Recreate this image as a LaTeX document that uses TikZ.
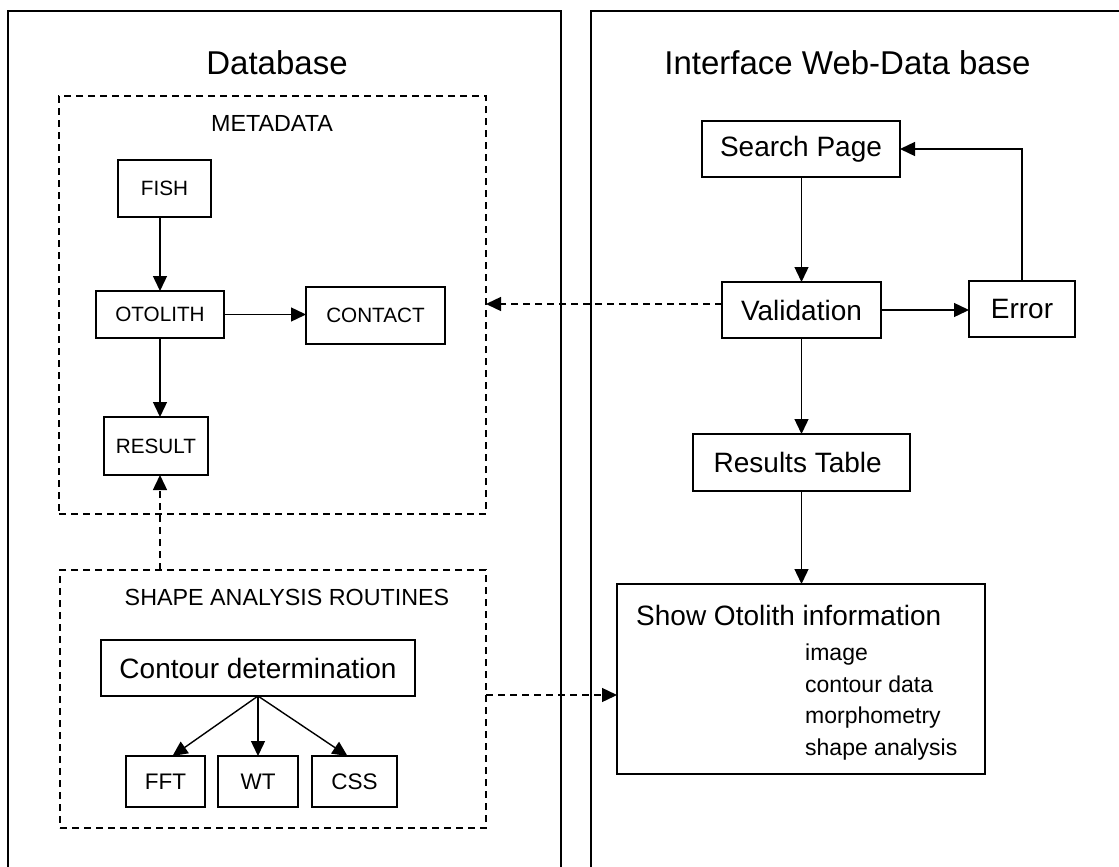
\documentclass[tikz,border=0pt]{standalone}
\usepackage{fontspec}
\setmainfont{Liberation Sans}
\usetikzlibrary{arrows.meta,calc}
\begin{document}
\begin{tikzpicture}[x=1pt,y=-1pt,
  box/.style={draw,line width=1.4pt,inner sep=0pt,outer sep=0pt,align=center},
  dbox/.style={draw,line width=1.4pt,dash pattern=on 7pt off 5pt,inner sep=0pt,outer sep=0pt},
  arr/.style={line width=1.4pt,-{Triangle[length=15pt,width=14pt]}},
  darr/.style={line width=1.4pt,dash pattern=on 7pt off 5pt,-{Triangle[length=15pt,width=14pt]}},
  ftitle/.style={font=\fontsize{33}{40}\selectfont},
  fsec/.style={font=\fontsize{23.3}{28}\selectfont},
  fsmall/.style={font=\fontsize{20.7}{25}\selectfont},
  fmid/.style={font=\fontsize{22.5}{27}\selectfont},
  fbig/.style={font=\fontsize{28}{34}\selectfont},
  flist/.style={font=\fontsize{23}{28}\selectfont,anchor=base west,inner sep=0pt}]
\useasboundingbox (0,0) rectangle (1119,867);
% outer frames
\draw[line width=1.6pt] (8,880) -- (8,11) -- (561,11) -- (561,880);
\draw[line width=1.6pt] (591,880) -- (591,11) -- (1130,11);
% titles
\node[ftitle] (tdb) at (277,63) {Database};
\node[ftitle] (tif) at (847.5,63) {Interface Web-Data base};
% metadata group
\node[dbox,minimum width=427,minimum height=418] (meta) at (272.5,305) {};
\node[fsec] (tmeta) at (272,123) {METADATA};
\node[box,fsmall,minimum width=93,minimum height=57] (fish) at (164.5,188.5) {FISH};
\node[box,fsmall,minimum width=128,minimum height=47] (oto) at (160,314.5) {OTOLITH};
\node[box,fsmall,minimum width=139,minimum height=57] (contact) at (375.5,315.5) {CONTACT};
\node[box,fsmall,minimum width=104,minimum height=58] (result) at (156,446) {RESULT};
\draw[arr] (fish.south -| oto.north) -- (oto.north);
\draw[arr] (oto.east) -- (oto.east -| contact.west);
\draw[arr] (oto.south) -- (oto.south |- result.north);
% shape analysis group
\node[dbox,minimum width=426,minimum height=258] (sar) at (273,699) {};
\node[fsec] (tsar) at (287,597) {SHAPE ANALYSIS ROUTINES};
\node[box,fbig,minimum width=314,minimum height=56] (contour) at (258,668) {Contour determination};
\node[box,fmid,minimum width=79,minimum height=51] (fft) at (165.5,781.5) {FFT};
\node[box,fmid,minimum width=80,minimum height=51] (wt) at (258,781.5) {WT};
\node[box,fmid,minimum width=85,minimum height=51] (css) at (354.5,781.5) {CSS};
\draw[arr] (contour.south) -- ($(fft.north)+(7,0)$);
\draw[arr] (contour.south) -- (wt.north);
\draw[arr] (contour.south) -- ($(css.north)+(-7,0)$);
\draw[darr] (sar.north -| oto.south) -- (result.south -| oto.south);
% interface
\node[box,fbig,minimum width=198,minimum height=56] (search) at (801,149) {Search Page};
\node[box,fbig,minimum width=159,minimum height=56] (val) at (801.5,310) {Validation};
\node[box,fbig,minimum width=106,minimum height=56] (err) at (1022,309) {Error};
\node[box,minimum width=217,minimum height=57] (res) at (801.5,462.5) {};
\node[fbig] (tres) at (797.7,462.5) {Results Table};
\node[box,minimum width=368,minimum height=190] (show) at (801,679) {};
\node[fbig,anchor=base west,inner sep=0pt] (tshow) at (636,625) {Show Otolith information};
\node[flist] (l1) at (805,660) {image};
\node[flist] (l2) at (805,692) {contour data};
\node[flist] (l3) at (805,723) {morphometry};
\node[flist] (l4) at (805,755) {shape analysis};
\draw[arr] (search.south -| val.north) -- (val.north);
\draw[arr] (val.east) -- (val.east -| err.west);
\draw[arr] (err.north) |- (search.east);
\draw[arr] (val.south) -- (res.north);
\draw[arr] (res.south) -- (res.south |- show.north);
\draw[darr] ([yshift=6pt]val.west) -- ([yshift=6pt]val.west -| meta.east);
\draw[darr] ([yshift=4pt]sar.east) -- ([yshift=4pt]sar.east -| show.west);
\end{tikzpicture}
\end{document}
